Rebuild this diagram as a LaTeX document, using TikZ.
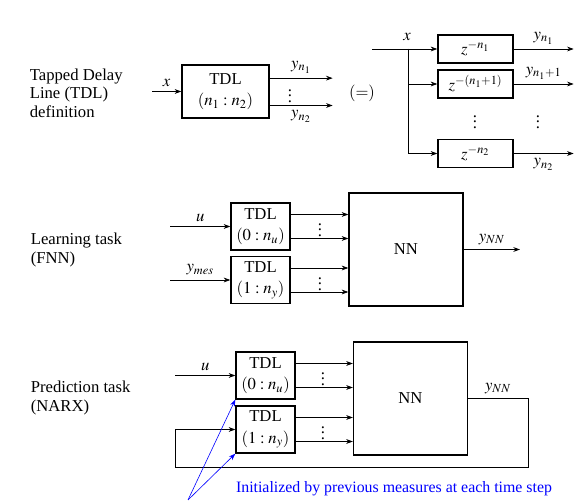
\documentclass[tikz,border=0pt]{standalone}
\usepackage{mathptmx}
\usepackage{fontspec}
\setmainfont{Liberation Serif}
\usetikzlibrary{positioning,arrows.meta}

\tikzset{
  blk/.style={draw,line width=1pt,fill=white,inner sep=1pt,align=center,
    font=\fontsize{12.5}{16}\selectfont},
  tdlbox/.style={blk,minimum width=44.25pt,minimum height=35.25pt},
  zbox/.style={blk,minimum width=56.25pt,minimum height=21pt},
  nnbox/.style={blk,minimum width=85.5pt,minimum height=84.75pt},
  lbl/.style={align=left,anchor=west,font=\fontsize{12.5}{14}\selectfont},
  dts/.style={inner sep=0pt}
}

\begin{document}
\begin{tikzpicture}[>={Stealth[length=5pt,width=3.6pt]}, x=.75pt, y=-.75pt,
  line width=.6pt, font=\fontsize{12.5}{15}\selectfont]
\useasboundingbox (0,0) rectangle (576,502);

% TDL definition
\node[lbl] (deftxt) at (25,93) {Tapped Delay\\Line (TDL)\\definition};
\node[blk,minimum width=65.25pt,minimum height=39.75pt] (tdl) at (225.5,91.5) {TDL\\$(n_1:n_2)$};
\coordinate (xin) at (152,91.5);
\draw[->] (xin) -- node[above]{$x$} (tdl.west);
\draw[->] ([yshift=10pt]tdl.east) -- ++(63,0) node[midway,above]{$y_{n_1}$};
\draw[->] ([yshift=-10.5pt]tdl.east) -- ++(63,0) node[midway,below]{$y_{n_2}$};
\node[dts] (dots0) at (290,92) {$\vdots$};
\node (eq) at (362,93) {$(=)$};

\node[zbox] (z1) at (475.5,49) {$z^{-n_1}$};
\node[zbox] (z2) at (475.5,84) {$z^{-(n_1+1)}$};
\node[zbox] (z3) at (475.5,153.5) {$z^{-n_2}$};
\coordinate (xin2) at (372,49);
\coordinate (br) at (408,49);
\draw[->] (xin2) -- (z1.west);
\node (xlbl) at (407,37) {$x$};
\draw[->] (br) |- (z2.west);
\draw[->] (br) |- (z3.west);
\draw[->] (z1.east) -- ++(60,0) node[midway,above]{$y_{n_1}$};
\draw[->] (z2.east) -- ++(60,0) node[midway,above]{$y_{n_1+1}$};
\draw[->] (z3.east) -- ++(60,0) node[midway,below]{$y_{n_2}$};
\node[dts] (dots1) at (475,118) {$\vdots$};
\node[dts] (dots2) at (538,118) {$\vdots$};

% learning task
\node[lbl] (learn) at (26,250) {Learning task\\(FNN)};
\node[tdlbox] (tdl1) at (260.5,226.5) {TDL\\$(0:n_u)$};
\node[tdlbox] (tdl2) at (260.5,280) {TDL\\$(1:n_y)$};
\node[nnbox] (nn1) at (406,249.5) {NN};
\coordinate (u1) at (170,226.5);
\coordinate (ym) at (170,280);
\coordinate (out1) at (520,249.5);
\draw[->] (u1) -- node[above]{$u$} (tdl1.west);
\draw[->] (ym) -- node[above]{$y_{mes}$} (tdl2.west);
\path ([yshift=9pt]tdl1.east) coordinate (a1) ([yshift=-9pt]tdl1.east) coordinate (a2)
      ([yshift=9pt]tdl2.east) coordinate (a3) ([yshift=-9pt]tdl2.east) coordinate (a4);
\draw[->] (a1) -- (a1 -| nn1.west);
\draw[->] (a2) -- (a2 -| nn1.west);
\draw[->] (a3) -- (a3 -| nn1.west);
\draw[->] (a4) -- (a4 -| nn1.west);
\node[dts] (dots3) at (320,226) {$\vdots$};
\node[dts] (dots4) at (320,280) {$\vdots$};
\draw[->] (nn1.east) -- node[above]{$y_{NN}$} (out1);

% prediction task
\node[lbl] (pred) at (26,398) {Prediction task\\(NARX)};
\node[tdlbox] (tdl3) at (265.5,375.5) {TDL\\$(0:n_u)$};
\node[tdlbox] (tdl4) at (265.5,429.5) {TDL\\$(1:n_y)$};
\node[nnbox] (nn2) at (410.5,398.5) {NN};
\coordinate (u2) at (175,375.5);
\coordinate (fbT) at (528,398.5);
\coordinate (fbL) at (175,467);
\draw[->] (u2) -- node[above]{$u$} (tdl3.west);
\path ([yshift=9pt]tdl3.east) coordinate (b1) ([yshift=-9pt]tdl3.east) coordinate (b2)
      ([yshift=9pt]tdl4.east) coordinate (b3) ([yshift=-9pt]tdl4.east) coordinate (b4);
\draw[->] (b1) -- (b1 -| nn2.west);
\draw[->] (b2) -- (b2 -| nn2.west);
\draw[->] (b3) -- (b3 -| nn2.west);
\draw[->] (b4) -- (b4 -| nn2.west);
\node[dts] (dots5) at (323,375) {$\vdots$};
\node[dts] (dots6) at (323,429) {$\vdots$};
\draw[->] (nn2.east) -- node[above]{$y_{NN}$} (fbT) |- (fbL) |- (tdl4.west);

% initialisation
\coordinate (ini) at (188,500);
\draw[->,blue,line width=.45pt] (ini) -- (tdl3.south west);
\draw[->,blue,line width=.45pt] (ini) -- (tdl4.south west);
\node[blue,font=\fontsize{11.9}{14}\selectfont] (initxt) at (394,489) {Initialized by previous measures at each time step};
\end{tikzpicture}
\end{document}
